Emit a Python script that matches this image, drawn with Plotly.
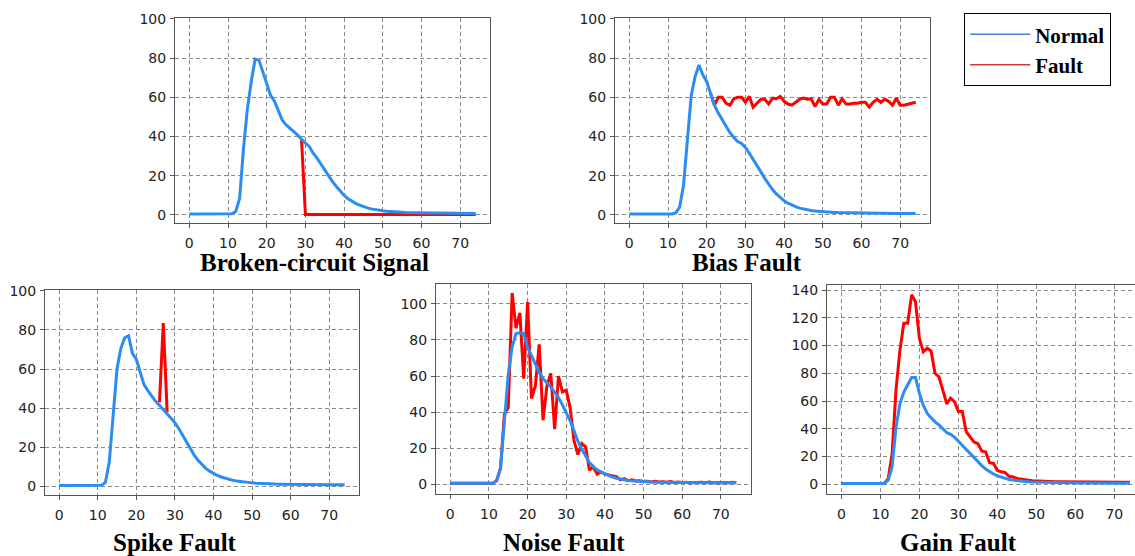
import plotly.graph_objects as go

W, H = 1135, 556

x_steps = list(range(75))
x_ticks = [0, 10, 20, 30, 40, 50, 60, 70]
x_tick_labels = ["0", "10", "20", "30", "40", "50", "60", "70"]

# ---- Broken-circuit Signal ----
broken_normal = [0.5, 0.5, 0.5, 0.5, 0.5, 0.5, 0.5, 0.5, 0.5, 0.5, 0.5,
                 0.6, 1.8, 8.5, 34, 54, 68, 79.5, 79, 73, 67, 61, 58, 53, 48.5, 46, 44, 42.5, 40.7, 38.5,
                 36.6, 35, 31.5, 29, 26, 23, 19.7, 17, 14.5, 12, 10, 8.3, 7, 5.9, 5, 4.2, 3.6, 3.1, 2.7, 2.4,
                 2.1, 1.9, 1.7, 1.6, 1.5, 1.4, 1.3, 1.2, 1.15, 1.1, 1.05, 1.0, 1.0, 0.95, 0.95, 0.9, 0.9, 0.9,
                 0.85, 0.85, 0.85, 0.8, 0.8, 0.8, 0.8]
broken_fault_x = list(range(29, 75))
broken_fault = [38.5, 0.3, 0.3, 0.3, 0.3, 0.3, 0.3, 0.3, 0.3, 0.3, 0.3, 0.3, 0.3, 0.3, 0.3, 0.3,
                0.3, 0.3, 0.3, 0.3, 0.3, 0.3, 0.3, 0.3, 0.3, 0.3, 0.3, 0.3, 0.3, 0.3, 0.3, 0.3,
                0.3, 0.3, 0.3, 0.3, 0.3, 0.3, 0.3, 0.3, 0.3, 0.3, 0.3, 0.3, 0.3, 0.3]

# ---- Bias Fault ----
bias_normal = [0.5, 0.5, 0.5, 0.5, 0.5, 0.5, 0.5, 0.5, 0.5, 0.5, 0.5,
               0.5, 1, 4, 15, 37, 61, 70.6, 76.5, 71.5, 68, 62, 56, 52, 48.5, 45, 42, 39.5, 37.5, 36.5,
               34.5, 31.5, 28.5, 25.5, 22, 18.7, 15.5, 13, 10.7, 8.8, 7.2, 6, 5, 4.2, 3.5, 3, 2.6, 2.3, 2, 1.8,
               1.6, 1.5, 1.4, 1.3, 1.2, 1.15, 1.1, 1.05, 1.0, 1.0, 0.95, 0.95, 0.9, 0.9, 0.9, 0.85, 0.85,
               0.85, 0.8, 0.8, 0.8, 0.8, 0.8, 0.8, 0.8]
bias_fault_x = list(range(21, 75))
bias_fault = [62, 56, 60, 60, 57, 56, 59.3, 60, 60, 57.5, 60.5, 55, 57, 59, 59, 56.6, 59.6, 59.3, 60.5, 58,
              56.6, 56, 57.5, 59, 59.6, 59, 59.3, 55.3, 59, 56.6, 56.6, 60, 60, 56, 59.3, 56.6, 56.6, 57,
              57, 57.5, 57.5, 55, 57.5, 59, 57.5, 59, 58, 56, 59.6, 56, 56, 56.6, 57, 57.5]

# ---- Spike Fault ----
spike_normal = [0.5, 0.5, 0.5, 0.5, 0.5, 0.5, 0.5, 0.5, 0.5, 0.5, 0.5,
                0.6, 2, 12.5, 36, 60, 70.6, 76, 77, 68, 65, 58.6, 52, 49, 46, 43.5, 41.5, 39.3, 37.3, 34.7,
                32.6, 29.6, 26, 22.7, 19.3, 16, 13.3, 11, 9.2, 7.8, 6.6, 5.6, 4.8, 4.1, 3.5, 3.1, 2.7, 2.4,
                2.2, 2, 1.8, 1.65, 1.5, 1.4, 1.3, 1.25, 1.2, 1.15, 1.1, 1.05, 1.0, 1.0, 0.95, 0.95, 0.9, 0.9,
                0.9, 0.85, 0.85, 0.85, 0.85, 0.8, 0.8, 0.8, 0.8]
spike_fault_x = [26, 27, 28]
spike_fault = [43, 83.5, 38]

# ---- Noise Fault ----
noise_normal = [0.5, 0.5, 0.5, 0.5, 0.5, 0.5, 0.5, 0.5, 0.5, 0.5, 0.5,
                0.6, 2, 9, 35, 61, 76, 83.5, 84, 83.5, 76, 71.5, 67, 62, 58.5, 56.5, 54, 51, 48, 44,
                40, 35.3, 29.7, 24, 19.5, 15.4, 12, 9.8, 8, 6.8, 5.8, 4.8, 4, 3.3, 2.8, 2.4, 2.1, 1.9, 1.7,
                1.5, 1.4, 1.3, 1.2, 1.15, 1.1, 1.05, 1.0, 1.0, 0.95, 0.95, 0.9, 0.9, 0.9, 0.85, 0.85, 0.85,
                0.85, 0.8, 0.8, 0.8, 0.8, 0.8, 0.8, 0.8, 0.8]
noise_fault = [0.5, 0.5, 0.5, 0.5, 0.5, 0.5, 0.5, 0.5, 0.5, 0.5, 0.5,
               0.6, 2, 9, 39, 42.5, 106, 86.5, 95, 58.5, 101, 47.5, 54.5, 77.5, 35.5, 54.5, 61.5, 30.5, 60,
               51.2, 52.2, 42.5, 24.3, 16.5, 22.5, 20.7, 7.8, 9.6, 5.6, 6.8, 5.6, 5.2, 4.6, 4.2, 2.4, 3.1,
               2.0, 2.5, 1.8, 2.0, 1.6, 1.7, 1.3, 1.6, 1.2, 1.4, 1.1, 1.5, 1.0, 1.2, 0.9, 1.1, 0.8, 1.0, 0.9,
               1.1, 0.8, 1.2, 0.9, 1.0, 0.7, 1.0, 0.8, 1.1, 0.9]

# ---- Gain Fault ----
gain_normal = [0.5, 0.5, 0.5, 0.5, 0.5, 0.5, 0.5, 0.5, 0.5, 0.5, 0.5,
               0.6, 3, 12.5, 41, 58, 66.5, 71.5, 77, 77, 65.5, 57, 51, 48, 45, 42.8, 40.4, 37.3, 36, 34,
               31, 28, 25, 22, 19.2, 16, 13.5, 11, 9, 7.4, 6, 5, 4.2, 3.5, 3, 2.6, 2.3, 2, 1.8, 1.6,
               1.5, 1.4, 1.3, 1.2, 1.15, 1.1, 1.05, 1.0, 1.0, 0.95, 0.95, 0.9, 0.9, 0.9, 0.85, 0.85, 0.85,
               0.85, 0.8, 0.8, 0.8, 0.8, 0.8, 0.8, 0.8]
gain_fault = [0.5, 0.5, 0.5, 0.5, 0.5, 0.5, 0.5, 0.5, 0.5, 0.5, 0.5,
              0.7, 4, 22, 68, 96.5, 116, 116, 136.5, 131.5, 105, 95.5, 98, 96, 80, 77.5, 68, 58, 62, 59.5,
              52.5, 52.5, 38, 34, 30.5, 29.3, 24, 23.3, 15.5, 15, 10, 9, 8.4, 5.8, 5.3, 4.2, 3.6, 3.4, 2.9,
              2.6, 2.4, 2.2, 2.1, 2.0, 1.9, 1.85, 1.8, 1.75, 1.7, 1.7, 1.65, 1.6, 1.6, 1.6, 1.55, 1.55, 1.5,
              1.5, 1.5, 1.5, 1.5, 1.5, 1.5, 1.5, 1.5]

titles = ["Broken-circuit Signal", "Bias Fault", "Spike Fault", "Noise Fault", "Gain Fault"]

NORMAL_COLOR = "#2b8cf2"
FAULT_COLOR = "#ff0000"

panels = [
    # (normal, fault_x, fault_y, px box (l, r, t, b), xrange, yrange, yticks, title center)
    (broken_normal, broken_fault_x, broken_fault, (175, 490, 18, 223), [-3.7, 77.7], [-4.1, 100.5],
     [0, 20, 40, 60, 80, 100], (314, 263)),
    (bias_normal, bias_fault_x, bias_fault, (615, 930, 18, 223), [-3.7, 77.7], [-4.1, 100.5],
     [0, 20, 40, 60, 80, 100], (747, 263)),
    (spike_normal, spike_fault_x, spike_fault, (45, 359, 290, 495), [-3.65, 77.7], [-4.4, 100.4],
     [0, 20, 40, 60, 80, 100], (175, 542)),
    (noise_normal, x_steps, noise_fault, (436, 751, 284, 494), [-3.7, 77.8], [-5.4, 111.0],
     [0, 20, 40, 60, 80, 100], (564, 542)),
    (gain_normal, x_steps, gain_fault, (827, 1135, 285, 494), [-3.7, 75.3], [-7.0, 143.6],
     [0, 20, 40, 60, 80, 100, 120, 140], (958, 542)),
]

fig = go.Figure()
annotations = []
for i, (normal, fx, fy, box, xr, yr, yt, tc) in enumerate(panels):
    n = "" if i == 0 else str(i + 1)
    xa, ya = "x" + n, "y" + n
    fig.add_trace(go.Scatter(x=fx, y=fy, mode="lines", name="Fault", showlegend=False,
                             line=dict(color=FAULT_COLOR, width=3), xaxis=xa, yaxis=ya))
    fig.add_trace(go.Scatter(x=x_steps, y=normal, mode="lines", name="Normal", showlegend=False,
                             line=dict(color=NORMAL_COLOR, width=3), xaxis=xa, yaxis=ya))
    l, r, t, b = box
    axis_common = dict(
        showline=True, linecolor="#555555", linewidth=1, mirror=True, automargin=False,
        showgrid=True, gridcolor="#8a8a8a", gridwidth=1, griddash="4px,3px",
        zeroline=False, ticks="outside", ticklen=4, tickcolor="#555555",
        tickfont=dict(family="DejaVu Sans", size=14, color="#222222"),
    )
    fig.layout["xaxis" + n] = dict(
        domain=[l / W, r / W], range=xr, anchor=ya, ticklabelstandoff=3,
        tickmode="array", tickvals=x_ticks, ticktext=x_tick_labels, **axis_common)
    fig.layout["yaxis" + n] = dict(
        domain=[1 - b / H, 1 - t / H], range=yr, anchor=xa, ticklabelstandoff=1,
        tickmode="array", tickvals=yt, ticktext=[str(v) for v in yt], **axis_common)
    annotations.append(dict(
        text="<b>" + titles[i] + "</b>", x=tc[0] / W, y=1 - tc[1] / H, xref="paper", yref="paper",
        xanchor="center", yanchor="middle", showarrow=False,
        font=dict(family="Liberation Serif", size=25, color="#000000")))

# legend entries
fig.add_trace(go.Scatter(x=[None], y=[None], mode="lines", name="<b>Normal</b>",
                         line=dict(color="#4a7fd4", width=1.5)))
fig.add_trace(go.Scatter(x=[None], y=[None], mode="lines", name="<b>Fault</b>",
                         line=dict(color="#d23a3a", width=1.5)))

fig.update_layout(
    width=W, height=H, margin=dict(l=0, r=0, t=0, b=0, pad=0, autoexpand=False),
    paper_bgcolor="white", plot_bgcolor="white",
    annotations=annotations,
    showlegend=True,
    legend=dict(x=964 / W, y=1 - 13 / H, xanchor="left", yanchor="top",
                bordercolor="#000000", borderwidth=1.2, bgcolor="white",
                font=dict(family="Liberation Serif", size=21, color="#000000"),
                itemwidth=60, tracegroupgap=0),
)

fig.write_html("out.html", config={"displayModeBar": False},
               post_script="document.body.style.margin='0';document.body.style.overflow='hidden';")
